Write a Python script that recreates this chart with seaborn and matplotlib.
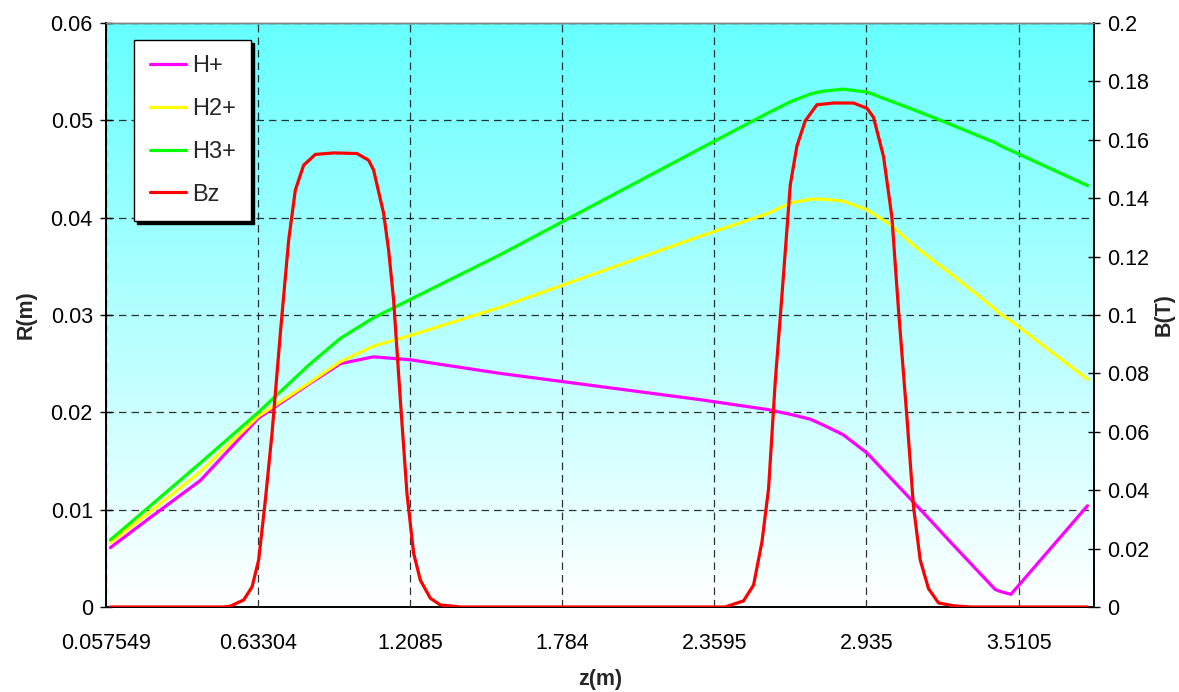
import numpy as np
import pandas as pd
import matplotlib
matplotlib.use("Agg")
import matplotlib.pyplot as plt
import seaborn as sns
from matplotlib.lines import Line2D

sns.set_theme(style="white")
plt.rcParams['font.family'] = ['Liberation Sans', 'DejaVu Sans']
plt.rcParams['font.size'] = 15.5

# beam envelopes, R(m) vs z(m)
z_r = [0.0742, 0.2255, 0.4147, 0.6340, 0.8308, 0.9443, 1.0691, 1.2091, 1.5496, 2.3062,
       2.5585, 2.6467, 2.7223, 2.7715, 2.8471, 2.9379, 3.0249, 3.1119, 3.1876,
       3.2519, 3.4221, 3.4410, 3.4815, 3.7713]
r_h1 = [0.0061, 0.0092, 0.0130, 0.0194, 0.0230, 0.0250, 0.0257, 0.0254, 0.0240, 0.0213,
        0.0203, 0.0198, 0.0193, 0.0187, 0.0177, 0.0158, 0.0133, 0.0108, 0.0086,
        0.0067, 0.0018, 0.0016, 0.0013, 0.0104]
r_h2 = [0.0066, 0.0098, 0.0139, 0.0196, 0.0231, 0.0252, 0.0268, 0.0279, 0.0308, 0.0381,
        0.0404, 0.0415, 0.0419, 0.0419, 0.0417, 0.0408, 0.0393, 0.0372, 0.0356,
        0.0343, 0.0306, 0.0301, 0.0294, 0.0234]
r_h3 = [0.0069, 0.0104, 0.0148, 0.0200, 0.0250, 0.0276, 0.0297, 0.0316, 0.0362, 0.0471,
        0.0507, 0.0519, 0.0527, 0.0530, 0.0532, 0.0529, 0.0520, 0.0511, 0.0503,
        0.0496, 0.0477, 0.0474, 0.0469, 0.0433]

# solenoid field, B(T) vs z(m)
z_b = [0.0742, 0.5000, 0.5282, 0.5785, 0.6102, 0.6352, 0.6605, 0.6859, 0.7173,
       0.7487, 0.7740, 0.8054, 0.8497, 0.9190, 1.0074, 1.0513, 1.0702, 1.1081,
       1.1270, 1.1459, 1.1713, 1.1966, 1.2216, 1.2469, 1.2848, 1.3226, 1.4000,
       2.4000, 2.4700, 2.5078, 2.5396, 2.5646, 2.5899, 2.6213, 2.6467, 2.6720,
       2.7034, 2.7476, 2.8104, 2.8861, 2.9368, 2.9617, 2.9996, 3.0313, 3.0563,
       3.0881, 3.1130, 3.1384, 3.1698, 3.2076, 3.2644, 3.3300, 3.7713]
bz = [0.0, 0.0, 0.0003, 0.0024, 0.0069, 0.0161, 0.0366, 0.0596, 0.0938,
      0.1256, 0.1428, 0.1513, 0.1550, 0.1555, 0.1553, 0.1530, 0.1496, 0.1348,
      0.1222, 0.1051, 0.0709, 0.0386, 0.0184, 0.0092, 0.0030, 0.0007, 0.0,
      0.0, 0.0021, 0.0075, 0.0223, 0.0405, 0.0772, 0.1139, 0.1445, 0.1579,
      0.1665, 0.1720, 0.1726, 0.1726, 0.1708, 0.1677, 0.1543, 0.1335, 0.1017,
      0.0650, 0.0344, 0.0161, 0.0063, 0.0014, 0.0004, 0.0, 0.0]

z_ticks = [0.057549, 0.63304, 1.2085, 1.784, 2.3595, 2.935, 3.5105]
z_tick_labels = ['0.057549', '0.63304', '1.2085', '1.784', '2.3595', '2.935', '3.5105']
z_min, z_max = 0.057549, 3.796

series = [('H+', r_h1, '#FF00FF'), ('H2+', r_h2, '#FFFF00'), ('H3+', r_h3, '#00FF00')]

fig = plt.figure(figsize=(11.79, 6.92), dpi=100)
ax = fig.add_axes([106 / 1179, 1 - 607 / 692, 988 / 1179, 584 / 692])
ax2 = ax.twinx()

# gradient plot area, cyan at top fading to white
grad = np.linspace(0, 1, 256).reshape(-1, 1)
top = np.array([102, 255, 255]) / 255
img = np.ones((256, 1, 3)) * (1 - grad[..., None]) + top * grad[..., None]
ax.imshow(img, extent=[z_min, z_max, 0, 0.06], origin='lower', aspect='auto',
          interpolation='bilinear', zorder=0)

for name, vals, col in series:
    df = pd.DataFrame({'z': z_r, 'R': vals})
    sns.lineplot(data=df, x='z', y='R', ax=ax, color=col, lw=2.3, zorder=3)

df_b = pd.DataFrame({'z': z_b, 'B': bz})
sns.lineplot(data=df_b, x='z', y='B', ax=ax2, color='#FF0000', lw=2.3, zorder=3)

ax.set_xlim(z_min, z_max)
ax.set_ylim(0, 0.06)
ax2.set_ylim(0, 0.2)
ax.set_xticks(z_ticks)
ax.set_xticklabels(z_tick_labels)
ax.set_yticks(np.arange(0, 0.061, 0.01))
ax.set_yticklabels(['0', '0.01', '0.02', '0.03', '0.04', '0.05', '0.06'])
ax2.set_yticks(np.arange(0, 0.201, 0.02))
ax2.set_yticklabels(['0', '0.02', '0.04', '0.06', '0.08', '0.1', '0.12', '0.14',
                     '0.16', '0.18', '0.2'])

ax.grid(True, color='black', linestyle=(0, (6, 4)), linewidth=0.9, alpha=0.8)
ax.set_axisbelow(False)
ax2.grid(False)

ax.tick_params(axis='both', direction='inout', length=9, width=1, colors='black',
               labelsize=15.5)
ax.tick_params(axis='x', pad=14)
ax.tick_params(axis='y', pad=5)
ax2.tick_params(axis='y', direction='inout', length=9, width=1, colors='black',
                labelsize=15.5, pad=5)

ax.set_xlabel('z(m)', fontweight='bold', fontsize=15.5, labelpad=11)
ax.set_ylabel('R(m)', fontweight='bold', fontsize=15.5, labelpad=10)
ax2.set_ylabel('B(T)', fontweight='bold', fontsize=15.5, labelpad=3)

for a in (ax, ax2):
    for s in ('left', 'bottom', 'right'):
        a.spines[s].set_color('black')
        a.spines[s].set_linewidth(1.2)
    a.spines['top'].set_color('#808080')
    a.spines['top'].set_linewidth(1)

handles = [Line2D([], [], color=c, lw=2.3) for _, _, c in series]
handles.append(Line2D([], [], color='#FF0000', lw=2.3))
labels = [n for n, _, _ in series] + ['Bz']
leg = ax2.legend(handles, labels, loc='upper left', bbox_to_anchor=(0.0286, 0.971),
                 frameon=True, fancybox=False, edgecolor='black', framealpha=1,
                 shadow={'color': 'black', 'alpha': 1}, borderaxespad=0,
                 handlelength=1.55, handletextpad=0.25, labelspacing=0.88,
                 borderpad=0.65, fontsize=17)
leg.get_frame().set_linewidth(1)
leg.set_zorder(10)

fig.savefig('out.png', dpi=100)
